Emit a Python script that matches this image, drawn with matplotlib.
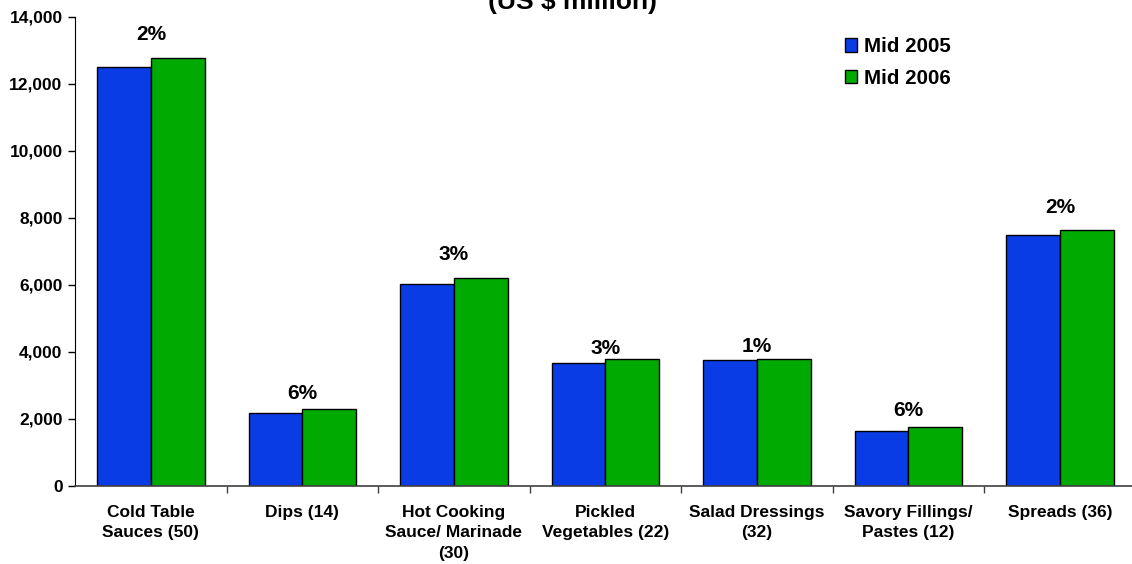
import numpy as np
import matplotlib
matplotlib.use("Agg")
import matplotlib.pyplot as plt
from matplotlib.ticker import FuncFormatter, FixedLocator

plt.rcParams["font.family"] = ["Liberation Sans", "DejaVu Sans"]
plt.rcParams["font.weight"] = "bold"

categories = ["Cold Table\nSauces (50)", "Dips (14)", "Hot Cooking\nSauce/ Marinade\n(30)",
              "Pickled\nVegetables (22)", "Salad Dressings\n(32)", "Savory Fillings/\nPastes (12)",
              "Spreads (36)"]
mid_2005 = [12500, 2170, 6030, 3680, 3760, 1655, 7490]
mid_2006 = [12780, 2300, 6220, 3800, 3800, 1750, 7640]
growth = ["2%", "6%", "3%", "3%", "1%", "6%", "2%"]

# gap (points) between the taller bar and its growth label
label_gap = [17, 11, 16.5, 7, 8.5, 12.5, 16]

blue = "#0A3CE6"
green = "#00AA00"

fig = plt.figure(figsize=(11.32, 5.64), dpi=100)
ax = fig.add_axes([0.0663, 0.1383, 0.937, 0.8317])

x = np.arange(len(categories))
w = 0.355
ax.bar(x - w / 2, mid_2005, w, color=blue, edgecolor="black", linewidth=1, label="Mid 2005")
ax.bar(x + w / 2, mid_2006, w, color=green, edgecolor="black", linewidth=1, label="Mid 2006")

for i, txt in enumerate(growth):
    top = max(mid_2005[i], mid_2006[i])
    ax.annotate(txt, (x[i], top), xytext=(0, label_gap[i]), textcoords="offset points",
                ha="center", va="center", fontsize=15, fontweight="bold")

ax.set_xlim(-0.5, len(categories) - 0.5)
ax.set_ylim(0, 14000)
ax.set_yticks(np.arange(0, 14001, 2000))
ax.yaxis.set_major_formatter(FuncFormatter(lambda v, p: f"{int(v):,}"))
ax.tick_params(axis="y", direction="out", length=5, width=1, pad=4, labelsize=12.5)

ax.set_xticks(x)
ax.set_xticklabels(categories, fontsize=12.5, fontweight="bold", linespacing=1.45)
ax.tick_params(axis="x", which="major", length=0, pad=13.5)
ax.xaxis.set_minor_locator(FixedLocator(np.arange(0.5, len(categories) - 0.5, 1)))
ax.tick_params(axis="x", which="minor", direction="out", length=5, width=1, color="#404040")

for side in ["top", "right"]:
    ax.spines[side].set_visible(False)
ax.spines["left"].set_color("black")
ax.spines["bottom"].set_color("#404040")
ax.spines["bottom"].set_linewidth(1.2)

ax.legend(loc="upper left", bbox_to_anchor=(0.708, 0.996), frameon=False,
          prop={"size": 14.8, "weight": "bold"}, handlelength=0.63, handleheight=0.63,
          handletextpad=0.34, labelspacing=0.6)

fig.text(0.506, 0.9755, "(US $ million)", ha="center", va="bottom", fontsize=19, fontweight="bold")

fig.savefig("out.png", dpi=100)
